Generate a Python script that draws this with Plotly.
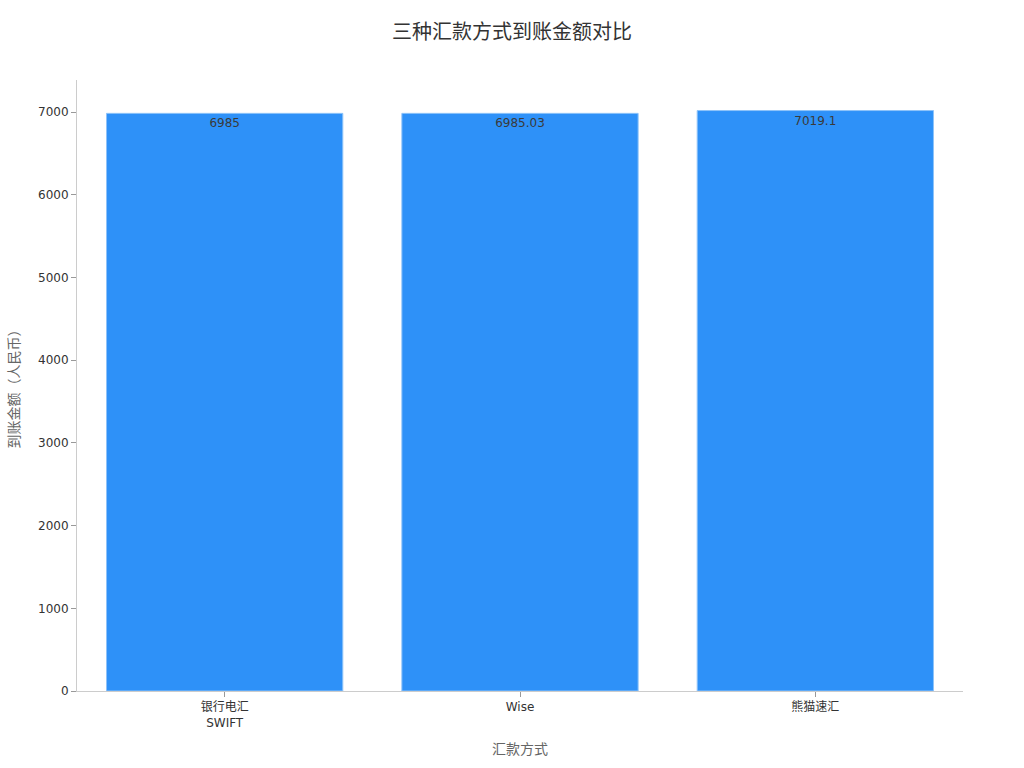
import plotly.graph_objects as go

categories = ["银行电汇<br>SWIFT", "Wise", "熊猫速汇"]
amounts = [6985, 6985.03, 7019.1]
labels = ["6985", "6985.03", "7019.1"]

fig = go.Figure(go.Bar(
    x=categories,
    y=amounts,
    text=labels,
    textposition="inside",
    insidetextanchor="end",
    textfont=dict(color="#3a3a3a", size=12),
    marker=dict(color="#2E91F8", line=dict(color="#8EC3F9", width=1)),
))

fig.update_layout(
    width=1024, height=768,
    font=dict(family="DejaVu Sans, Noto Sans CJK SC, sans-serif", color="#333333", size=12),
    title=dict(text="三种汇款方式到账金额对比", x=0.5, xanchor="center",
               y=1 - 32 / 768, yanchor="middle",
               font=dict(size=20, color="#333333")),
    plot_bgcolor="white", paper_bgcolor="white",
    margin=dict(l=77, r=61, t=80, b=77),
    bargap=0.2,
    showlegend=False,
)
fig.update_xaxes(
    title=dict(text="汇款方式", font=dict(size=14, color="#666666")),
    showline=True, linecolor="#cccccc", ticks="outside", tickcolor="#999999", ticklen=5,
    showgrid=False, tickfont=dict(size=12, color="#333333"),
)
fig.update_yaxes(
    title=dict(text="到账金额（人民币）", font=dict(size=14, color="#666666")),
    showline=True, linecolor="#cccccc", ticks="outside", tickcolor="#999999", ticklen=5,
    showgrid=False, zeroline=False, tickfont=dict(size=12, color="#333333"),
    dtick=1000,
)

fig.write_html("out.html", config={"displayModeBar": False},
               post_script="document.body.style.margin='0';")
